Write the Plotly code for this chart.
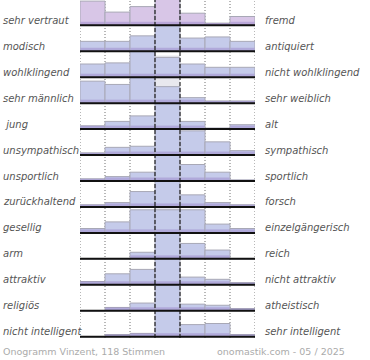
import plotly.graph_objects as go

# ---------------- data ----------------
left_labels = ["sehr vertraut", "modisch", "wohlklingend", "sehr männlich", "\u00a0jung",
               "unsympathisch", "unsportlich", "zurückhaltend", "gesellig", "arm",
               "attraktiv", "religiös", "nicht intelligent"]
right_labels = ["fremd", "antiquiert", "nicht wohlklingend", "sehr weiblich", "alt",
                "sympathisch", "sportlich", "forsch", "einzelgängerisch", "reich",
                "nicht attraktiv", "atheistisch", "sehr intelligent"]
scale_steps = [1, 2, 3, 4, 5, 6, 7]

# share of votes (%) per scale step, one list per row
vertraut = [22, 12, 17, 28, 11, 2, 8]
modisch = [9, 9, 14, 34, 12, 13, 9]
wohlklingend = [12, 13, 24, 18, 12, 9, 9]
maennlich = [20, 17, 39, 15, 5, 2, 2]
jung = [3, 7, 12, 67, 7, 1, 4]
unsympathisch = [2, 7, 8, 45, 22, 12, 4]
unsportlich = [2, 4, 8, 62, 15, 8, 1]
zurueckhaltend = [2, 4, 14, 63, 11, 4, 2]
gesellig = [4, 10, 21, 21, 21, 8, 4]
arm = [0, 0, 6, 72, 14, 8, 0]
attraktiv = [3, 10, 14, 59, 7, 5, 2]
religioes = [0, 3, 7, 77, 6, 5, 2]
intelligent = [0, 2, 3, 70, 11, 12, 2]

rows = [vertraut, modisch, wohlklingend, maennlich, jung, unsympathisch, unsportlich,
        zurueckhaltend, gesellig, arm, attraktiv, religioes, intelligent]

footer_left = "Onogramm Vinzent, 118 Stimmen"
footer_right = "onomastik.com - 05 / 2025"

# ---------------- layout constants ----------------
W, H = 370, 360
PL, PR = 80, 255          # plot area left/right (px)
PT, PB = 0, 338           # plot area top/bottom (px)
ROW0 = 25.3               # first baseline from top (px)
STEP = 25.95              # row spacing (px)
PX_PER_PCT = 1.1
BAND = 3.5

def baseline(i):
    return (PB - PT) - (ROW0 + STEP * i)

def px_to_paper_x(px):
    return (px - PL) / (PR - PL)

def px_to_paper_y(py):
    return (PB - py) / (PB - PT)

xs, over_b, over_y, in_b, in_y, band_y, colors = [], [], [], [], [], [], []
for i, row in enumerate(rows):
    for j, v in enumerate(row):
        h = v * PX_PER_PCT
        b = baseline(i)
        xs.append(j)
        in_b.append(b)
        in_y.append(min(h, STEP))
        over_b.append(b + STEP)
        over_y.append(max(h - STEP, 0))
        band_y.append(min(h, BAND))
        colors.append("#d8c6e7" if i == 0 else "#c5cbea")

fig = go.Figure()
fig.add_trace(go.Bar(x=xs, y=over_y, base=over_b, width=1,
                     marker=dict(color="#e8e8ee", line=dict(width=0)),
                     hoverinfo="skip", showlegend=False))
fig.add_trace(go.Bar(x=xs, y=in_y, base=in_b, width=1,
                     marker=dict(color=colors, line=dict(color="#a8a8b6", width=1)),
                     hoverinfo="skip", showlegend=False))
fig.add_trace(go.Bar(x=xs, y=band_y, base=in_b, width=0.96,
                     marker=dict(color="rgba(150,128,200,0.45)", line=dict(width=0)),
                     hoverinfo="skip", showlegend=False))

shapes = []
for k in range(8):
    xv = k - 0.5
    if k in (3, 4):
        continue
    shapes.append(dict(type="line", xref="x", yref="y", x0=xv, x1=xv, y0=0, y1=PB - PT,
                       line=dict(color="#707070", width=1, dash="1px,2px"), layer="below"))
for xv in (2.5, 3.5):
    shapes.append(dict(type="line", xref="x", yref="y", x0=xv, x1=xv, y0=0, y1=PB - PT,
                       line=dict(color="#000000", width=1, dash="4px,2px"), layer="above"))
for i in range(len(rows)):
    b = baseline(i)
    shapes.append(dict(type="line", xref="x", yref="y", x0=-0.5, x1=6.5, y0=b, y1=b,
                       line=dict(color="#111111", width=2), layer="above"))

annotations = []
lab_font = dict(family="DejaVu Sans", size=10, color="#555555", style="italic")
for i in range(len(rows)):
    yc = baseline(i) + 5
    annotations.append(dict(text=left_labels[i], xref="paper", yref="y",
                            x=px_to_paper_x(1), y=yc, xanchor="left", yanchor="middle",
                            showarrow=False, font=lab_font))
    annotations.append(dict(text=right_labels[i], xref="paper", yref="y",
                            x=px_to_paper_x(263), y=yc, xanchor="left", yanchor="middle",
                            showarrow=False, font=lab_font))
foot_font = dict(family="DejaVu Sans", size=9.5, color="#ababab")
annotations.append(dict(text=footer_left, xref="paper", yref="paper", x=px_to_paper_x(1),
                        y=px_to_paper_y(351), xanchor="left", yanchor="middle",
                        showarrow=False, font=foot_font))
annotations.append(dict(text=footer_right, xref="paper", yref="paper", x=px_to_paper_x(347),
                        y=px_to_paper_y(351), xanchor="right", yanchor="middle",
                        showarrow=False, font=foot_font))

fig.update_layout(
    width=W, height=H, autosize=False,
    margin=dict(l=PL, r=W - PR, t=PT, b=H - PB, pad=0),
    barmode="overlay",
    plot_bgcolor="white", paper_bgcolor="white",
    xaxis=dict(range=[-0.5, 6.5], visible=False, fixedrange=True),
    yaxis=dict(range=[0, PB - PT], visible=False, fixedrange=True),
    shapes=shapes, annotations=annotations,
    showlegend=False,
)

fig.write_html("out.html", config=dict(displayModeBar=False),
               post_script="document.body.style.margin='0';document.body.style.overflow='hidden';")
